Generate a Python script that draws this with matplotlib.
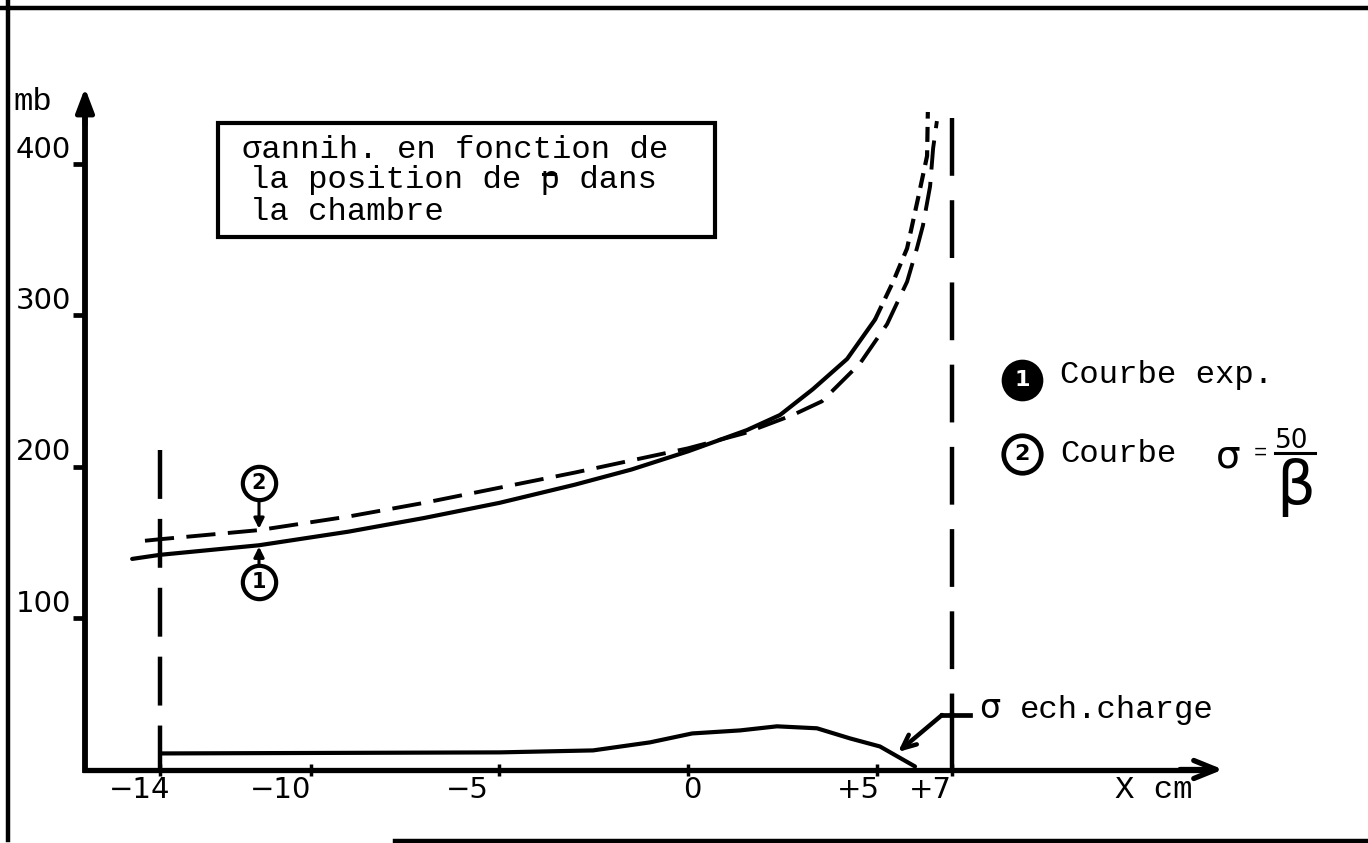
import numpy as np
import matplotlib
matplotlib.use("Agg")
import matplotlib.pyplot as plt
import matplotlib.transforms as mtransforms

# --- data -----------------------------------------------------------------
# sigma annihilation, experimental curve (1): measured part
x_exp = [-14.74, -14.0, -11.38, -9.0, -7.0, -5.0, -3.0, -1.5, 0.0, 1.56, 2.44,
         3.31, 4.22, 4.96]
sig_exp = [139, 141.7, 148, 157, 166, 176, 188, 198, 210, 224, 234,
           251, 271, 297]
# curve (1) extrapolated towards the end of the chamber
x_exp_ext = [4.96, 5.44, 5.81, 6.10, 6.34, 6.36]
sig_exp_ext = [297, 322, 344, 377, 405, 434]
# curve (2): sigma = 50 / beta
x_beta = [-14.40, -14.0, -11.38, -9.0, -7.0, -5.0, -3.0, -1.5, 0.0, 1.5, 2.78,
          3.55, 4.56, 5.28, 5.81, 6.07, 6.23, 6.42, 6.50, 6.60]
sig_beta = [151, 152, 158, 167, 176, 186, 196, 204, 212, 222, 234,
            243, 268, 294, 322, 344, 359, 385, 410, 428]
# charge-exchange cross section
x_ech = [-14.0, -4.99, -2.52, -1.01, 0.11, 1.38, 2.36, 3.42, 4.30, 5.09, 6.02]
sig_ech = [10.6, 11.3, 12.6, 17.9, 23.8, 25.8, 28.5, 27.2, 20.5, 15.2, 2.0]

x_ticks = [-14, -10, -5, 0, 5, 7]
x_tick_labels = ["\u221214", "\u221210", "\u22125", "0", "+5", "+7"]
y_ticks = [100, 200, 300, 400]
y_tick_labels = ["100", "200", "300", "400"]
chamber_limits = [-14, 7]

# --- page geometry ----------------------------------------------------------
W, H, DPI = 1368, 843, 100
X0, XS = 688, 37.71    # pixel column of x = 0, pixels per cm
Y0, YS = 769.5, 1.515  # pixel row of 0 mb, pixels per mb


def dx(px):
    return (px - X0) / XS


def dy(py):
    return (Y0 - py) / YS


TT = "Liberation Mono"
SANS = "DejaVu Sans"
FS_TT = 23.3
FS_TICK = 21

fig = plt.figure(figsize=(W / DPI, H / DPI), dpi=DPI, facecolor="white")
ax = fig.add_axes([0, 0, 1, 1])
ax.set_xlim(dx(0), dx(W))
ax.set_ylim(dy(H), dy(0))
ax.patch.set_alpha(0)

# axes drawn as arrows
for s in ("top", "right"):
    ax.spines[s].set_visible(False)
ax.spines["left"].set_position(("data", dx(85)))
ax.spines["bottom"].set_position(("data", 0))
ax.spines["left"].set_bounds(0, dy(105))
ax.spines["bottom"].set_bounds(dx(85), dx(1210))
ax.spines["left"].set_linewidth(4.2)
ax.spines["bottom"].set_linewidth(3.8)
ax.spines["left"].set_capstyle("projecting")

ax.annotate("", xy=(dx(85), dy(88)), xytext=(dx(85), dy(125)),
            arrowprops=dict(arrowstyle="-|>,head_length=1.45,head_width=0.55",
                            lw=3.5, color="black", shrinkA=0, shrinkB=0))
ax.annotate("", xy=(dx(1223), 0), xytext=(dx(1180), 0),
            arrowprops=dict(arrowstyle="->,head_length=1.6,head_width=0.65",
                            lw=3.8, color="black", shrinkA=0, shrinkB=0))

ax.set_yticks(y_ticks, y_tick_labels)
ax.tick_params(axis="y", direction="out", length=8.5, width=3.4, pad=1.5,
               labelsize=FS_TICK)
for lbl in ax.get_yticklabels():
    lbl.set_verticalalignment("bottom")

ax.set_xticks(x_ticks, x_tick_labels)
ax.tick_params(axis="x", direction="inout", length=8, width=2.5, pad=0.5,
               labelsize=FS_TICK)
# hand-lettered labels sit slightly off their ticks (offsets in pixels)
x_label_nudge = {-14: 10, -5: -11, 0: 4, 5: 3}
for lbl, tick in zip(ax.get_xticklabels(), x_ticks):
    lbl.set_horizontalalignment("center" if tick == 0 else "right")
    if tick in x_label_nudge:
        off = mtransforms.ScaledTranslation(x_label_nudge[tick] / DPI, 0,
                                            fig.dpi_scale_trans)
        lbl.set_transform(lbl.get_transform() + off)

# chamber limits
ax.plot([chamber_limits[0]] * 2, [dy(450), 0], color="black", lw=3.2,
        dashes=(11, 4.5))
ax.plot([chamber_limits[1]] * 2, [dy(118), dy(716)], color="black", lw=3.2,
        dashes=(13, 5.5))

# curves
ax.plot(x_exp, sig_exp, color="black", lw=3.0, solid_capstyle="round",
        solid_joinstyle="round")
ax.plot(x_exp_ext, sig_exp_ext, color="black", lw=3.0, dashes=(3.6, 2.0))
ax.plot(x_beta, sig_beta, color="black", lw=2.8, dashes=(7.5, 3.2))
ax.plot(x_ech, sig_ech, color="black", lw=3.0, solid_capstyle="round",
        solid_joinstyle="round")

# numbered circles next to the curves
for num, py in (("2", 483), ("1", 582)):
    ax.plot(dx(259), dy(py), "o", ms=24, mfc="white", mec="black", mew=3.0)
    ax.text(dx(259), dy(py), num, family=SANS, fontsize=15, fontweight="bold",
            ha="center", va="center")
xm = dx(259)
ax.annotate("", xy=(xm, np.interp(xm, x_beta, sig_beta)), xytext=(xm, dy(500)),
            arrowprops=dict(arrowstyle="-|>,head_length=0.6,head_width=0.3",
                            lw=2.2, color="black", shrinkA=0, shrinkB=1))
ax.annotate("", xy=(xm, np.interp(xm, x_exp, sig_exp)), xytext=(xm, dy(565)),
            arrowprops=dict(arrowstyle="-|>,head_length=0.6,head_width=0.3",
                            lw=2.2, color="black", shrinkA=0, shrinkB=1))

# title box
ax.add_patch(plt.Rectangle((dx(218), dy(237)), dx(715) - dx(218),
                           dy(123) - dy(237), fill=False, lw=3.0,
                           edgecolor="black"))
ax.text(dx(242), dy(158), "\u03c3annih. en fonction de", family=TT,
        fontsize=FS_TT, va="baseline")
ax.text(dx(250), dy(188), "la position de p dans", family=TT,
        fontsize=FS_TT, va="baseline")
ax.plot([dx(543), dx(555)], [dy(174), dy(174)], color="black", lw=2.2)
ax.text(dx(250), dy(220), "la chambre", family=TT, fontsize=FS_TT,
        va="baseline")

# axis names
ax.text(dx(13), dy(110), "mb", family=TT, fontsize=FS_TT, va="baseline")
ax.text(dx(1115), dy(798), "X cm", family=TT, fontsize=FS_TT, va="baseline")

# key
ax.plot(dx(1022), dy(380), "o", ms=27, mfc="black", mec="black", mew=3.0)
ax.text(dx(1022), dy(380), "1", family=SANS, fontsize=16, fontweight="bold",
        color="white", ha="center", va="center")
ax.plot(dx(1022), dy(454), "o", ms=27, mfc="white", mec="black", mew=3.4)
ax.text(dx(1022), dy(454), "2", family=SANS, fontsize=16, fontweight="bold",
        ha="center", va="center")
ax.text(dx(1060), dy(383), "Courbe exp.", family=TT, fontsize=FS_TT,
        va="baseline")
ax.text(dx(1060), dy(462), "Courbe", family=TT, fontsize=FS_TT, va="baseline")
ax.text(dx(1228), dy(457), "\u03c3", family=SANS, fontsize=28,
        ha="center", va="center")
ax.text(dx(1260), dy(453), "=", family=TT, fontsize=16, ha="center",
        va="center")
ax.text(dx(1292), dy(441), "50", family=SANS, fontsize=19, ha="center",
        va="center")
ax.plot([dx(1275), dx(1315)], [dy(453), dy(453)], color="black", lw=2.2)
ax.text(dx(1296), dy(458), "\u03b2", family=SANS, fontsize=44, ha="center",
        va="top")

# charge-exchange label with leader
ax.text(dx(990), dy(718), "\u03c3", family=SANS, fontsize=24, ha="center",
        va="baseline")
ax.text(dx(1020), dy(718), "ech.charge", family=TT, fontsize=FS_TT,
        va="baseline")
ax.plot([dx(970), dx(942)], [dy(715), dy(715)], color="black", lw=3.4)
ax.plot([chamber_limits[1]] * 2, [dy(715), 0], color="black", lw=3.2)
ax.annotate("", xy=(dx(898), dy(752)), xytext=(dx(942), dy(715)),
            arrowprops=dict(arrowstyle="->,head_length=1.0,head_width=0.45",
                            lw=3.2, color="black", shrinkA=0, shrinkB=0))

# page frame
frame = dict(color="black", lw=3.2, clip_on=False)
ax.plot([dx(0), dx(W)], [dy(8), dy(8)], **frame)
ax.plot([dx(8), dx(8)], [dy(0), dy(840)], **frame)
ax.plot([dx(395), dx(W)], [dy(841), dy(841)], **frame)

fig.savefig("out.png", dpi=DPI, facecolor="white")
